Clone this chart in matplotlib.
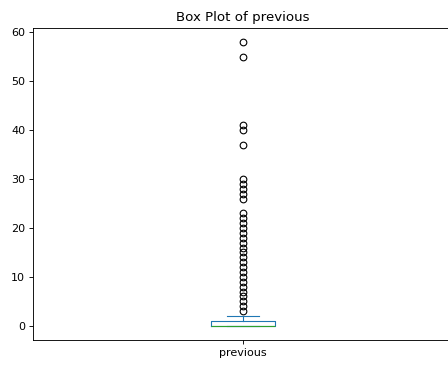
import matplotlib
matplotlib.use("Agg")
import matplotlib.pyplot as plt

# Summary statistics of the "previous" column
column_name = "previous"
q1, median, q3 = 0, 0, 1
whisker_low, whisker_high = 0, 2
outliers = list(range(3, 24)) + [26, 27, 28, 29, 30, 37, 40, 41, 55, 58]

stats = [{
    "label": column_name,
    "q1": q1,
    "med": median,
    "q3": q3,
    "whislo": whisker_low,
    "whishi": whisker_high,
    "fliers": outliers,
}]

dpi = 80
fig = plt.figure(figsize=(448 / dpi, 365 / dpi), dpi=dpi)
ax = fig.add_axes([33 / 448, 25 / 365, 420 / 448, 312 / 365])

ax.bxp(
    stats,
    positions=[1],
    widths=0.15,
    boxprops=dict(color="#1f77b4"),
    whiskerprops=dict(color="#1f77b4"),
    capprops=dict(color="#1f77b4"),
    medianprops=dict(color="#2ca02c"),
    flierprops=dict(marker="o", markerfacecolor="none", markeredgecolor="black"),
)
ax.set_xlim(0.5, 1.5)
ax.set_ylim(-2.9, 60.9)
ax.set_yticks([0, 10, 20, 30, 40, 50, 60])
ax.set_title("Box Plot of previous")

fig.savefig("out.png", dpi=dpi)
